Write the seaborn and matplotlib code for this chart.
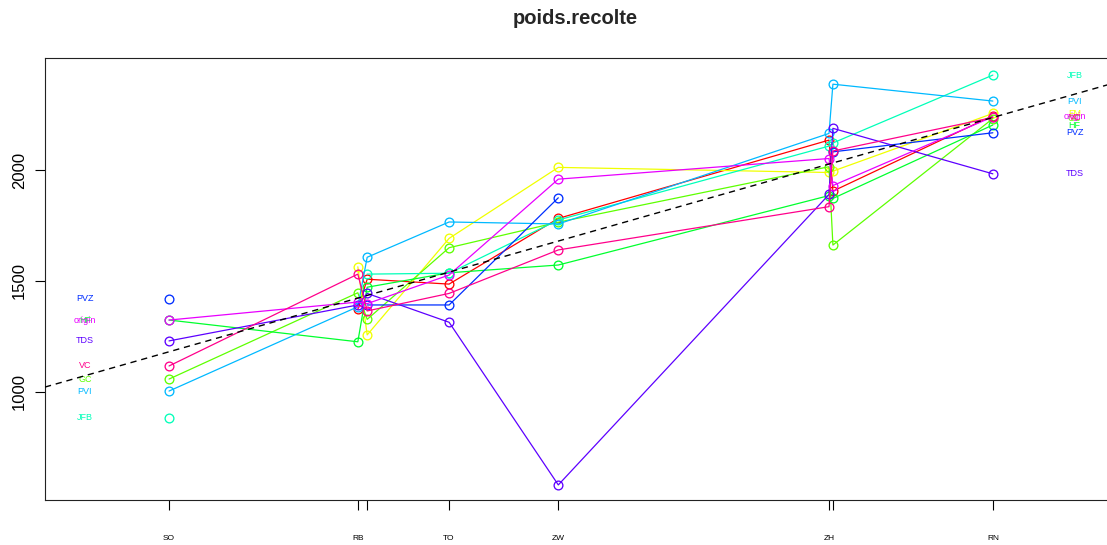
import numpy as np
import pandas as pd
import matplotlib
matplotlib.use("Agg")
import matplotlib.pyplot as plt
import seaborn as sns

# Environment index (mean yield of each environment) and its site code
env_codes = ["SO", "RB", "RB", "TO", "ZW", "ZH", "ZH", "RN"]
env_index = [1181, 1423, 1435, 1540, 1680, 2027, 2032, 2237]

# Yield per variety in each environment (NaN = not tested)
nan = np.nan
varieties = ["ref", "FM", "GC", "HF", "JFB", "PVI", "PVZ", "TDS", "origin", "VC"]
y_ref    = [nan, 1372, 1508, 1486, 1782, 2135, 1905, 2245]
y_FM     = [nan, 1564, 1257, 1692, 2012, 1989, 1995, 2255]
y_GC     = [1058, 1447, 1327, 1650, 1765, 2015, 1662, 2232]
y_HF     = [1324, 1226, 1472, 1537, 1572, 1885, 1872, 2203]
y_JFB    = [883, nan, 1531, 1535, 1775, 2108, 2122, 2428]
y_PVI    = [1004, 1384, 1607, 1766, 1757, 2165, 2387, 2311]
y_PVZ    = [1419, nan, 1392, 1392, 1875, nan, 2082, 2168]
y_TDS    = [1230, 1392, 1444, 1314, 581, 1890, 2188, 1983]
y_origin = [1324, 1405, 1398, 1527, 1959, 2052, 1930, 2240]
y_VC     = [1117, 1531, 1365, 1444, 1640, 1835, 2086, 2237]
yields = [y_ref, y_FM, y_GC, y_HF, y_JFB, y_PVI, y_PVZ, y_TDS, y_origin, y_VC]

colors = ["#FF0000", "#F0FF00", "#5DFF00", "#00FF2E", "#00FFB9",
          "#00B9FF", "#002EFF", "#5D00FF", "#E800FF", "#FF008B"]
# varieties whose names are written beside the first / last environment
show_label = [False, True, True, True, True, True, True, True, True, True]

# long-form table; a new run starts after every missing value so lines break there
rows = []
for name, vals in zip(varieties, yields):
    run = 0
    for x, v in zip(env_index, vals):
        if np.isnan(v):
            run += 1
            continue
        rows.append({"env": x, "yield": v, "variety": name, "run": f"{name}_{run}"})
df = pd.DataFrame(rows)

sns.set_theme(style="white")
plt.rcParams["font.family"] = ["Liberation Sans", "DejaVu Sans"]

fig = plt.figure(figsize=(11.07, 5.45), dpi=100)
ax = fig.add_axes([45 / 1107, 1 - 500 / 545, 1062.5 / 1107, 442 / 545])

palette = dict(zip(varieties, colors))
sns.lineplot(data=df, x="env", y="yield", hue="variety", units="run",
             estimator=None, sort=True, palette=palette, legend=False,
             marker="o", markersize=6.3, markerfacecolor="none",
             markeredgewidth=0.95, linewidth=0.9, ax=ax)
# markers take the colour of their line
for line in ax.get_lines():
    line.set_markeredgecolor(line.get_color())

# reference line y = x
ax.axline((1000, 1000), slope=1, color="black", linestyle=(0, (4.5, 3.5)),
          linewidth=1.0, zorder=5)

# variety names at both ends
x_left, x_right = 1073, 2342
for name, vals, col, show in zip(varieties, yields, colors, show_label):
    if not show:
        continue
    if not np.isnan(vals[0]):
        ax.text(x_left, vals[0], name, color=col, fontsize=6.5,
                ha="center", va="center")
    if not np.isnan(vals[-1]):
        ax.text(x_right, vals[-1], name, color=col, fontsize=6.5,
                ha="center", va="center")

ax.set_xlim(1022, 2384)
ax.set_ylim(513, 2505)

# one tick per environment, skipping labels that would collide
tick_labels = []
last = -1e9
for code, x in zip(env_codes, env_index):
    if x - last < 40:
        tick_labels.append("")
    else:
        tick_labels.append(code)
        last = x
ax.set_xticks(env_index)
ax.set_xticklabels(tick_labels, fontsize=6)
ax.set_yticks([1000, 1500, 2000])
ax.set_yticklabels(["1000", "1500", "2000"], fontsize=12, rotation=90, va="center")

ax.tick_params(axis="x", direction="out", length=7, width=0.8, pad=18,
               bottom=True, colors="black")
ax.tick_params(axis="y", direction="out", length=7, width=0.8, pad=6,
               left=True, colors="black")
for s in ax.spines.values():
    s.set_color("#222222")
    s.set_linewidth(0.8)

ax.set_xlabel("")
ax.set_ylabel("")
fig.text(575 / 1107, 1 - 19 / 545, "poids.recolte", ha="center", va="center",
         fontsize=14.5, fontweight="bold")

fig.savefig("out.png", dpi=100)
